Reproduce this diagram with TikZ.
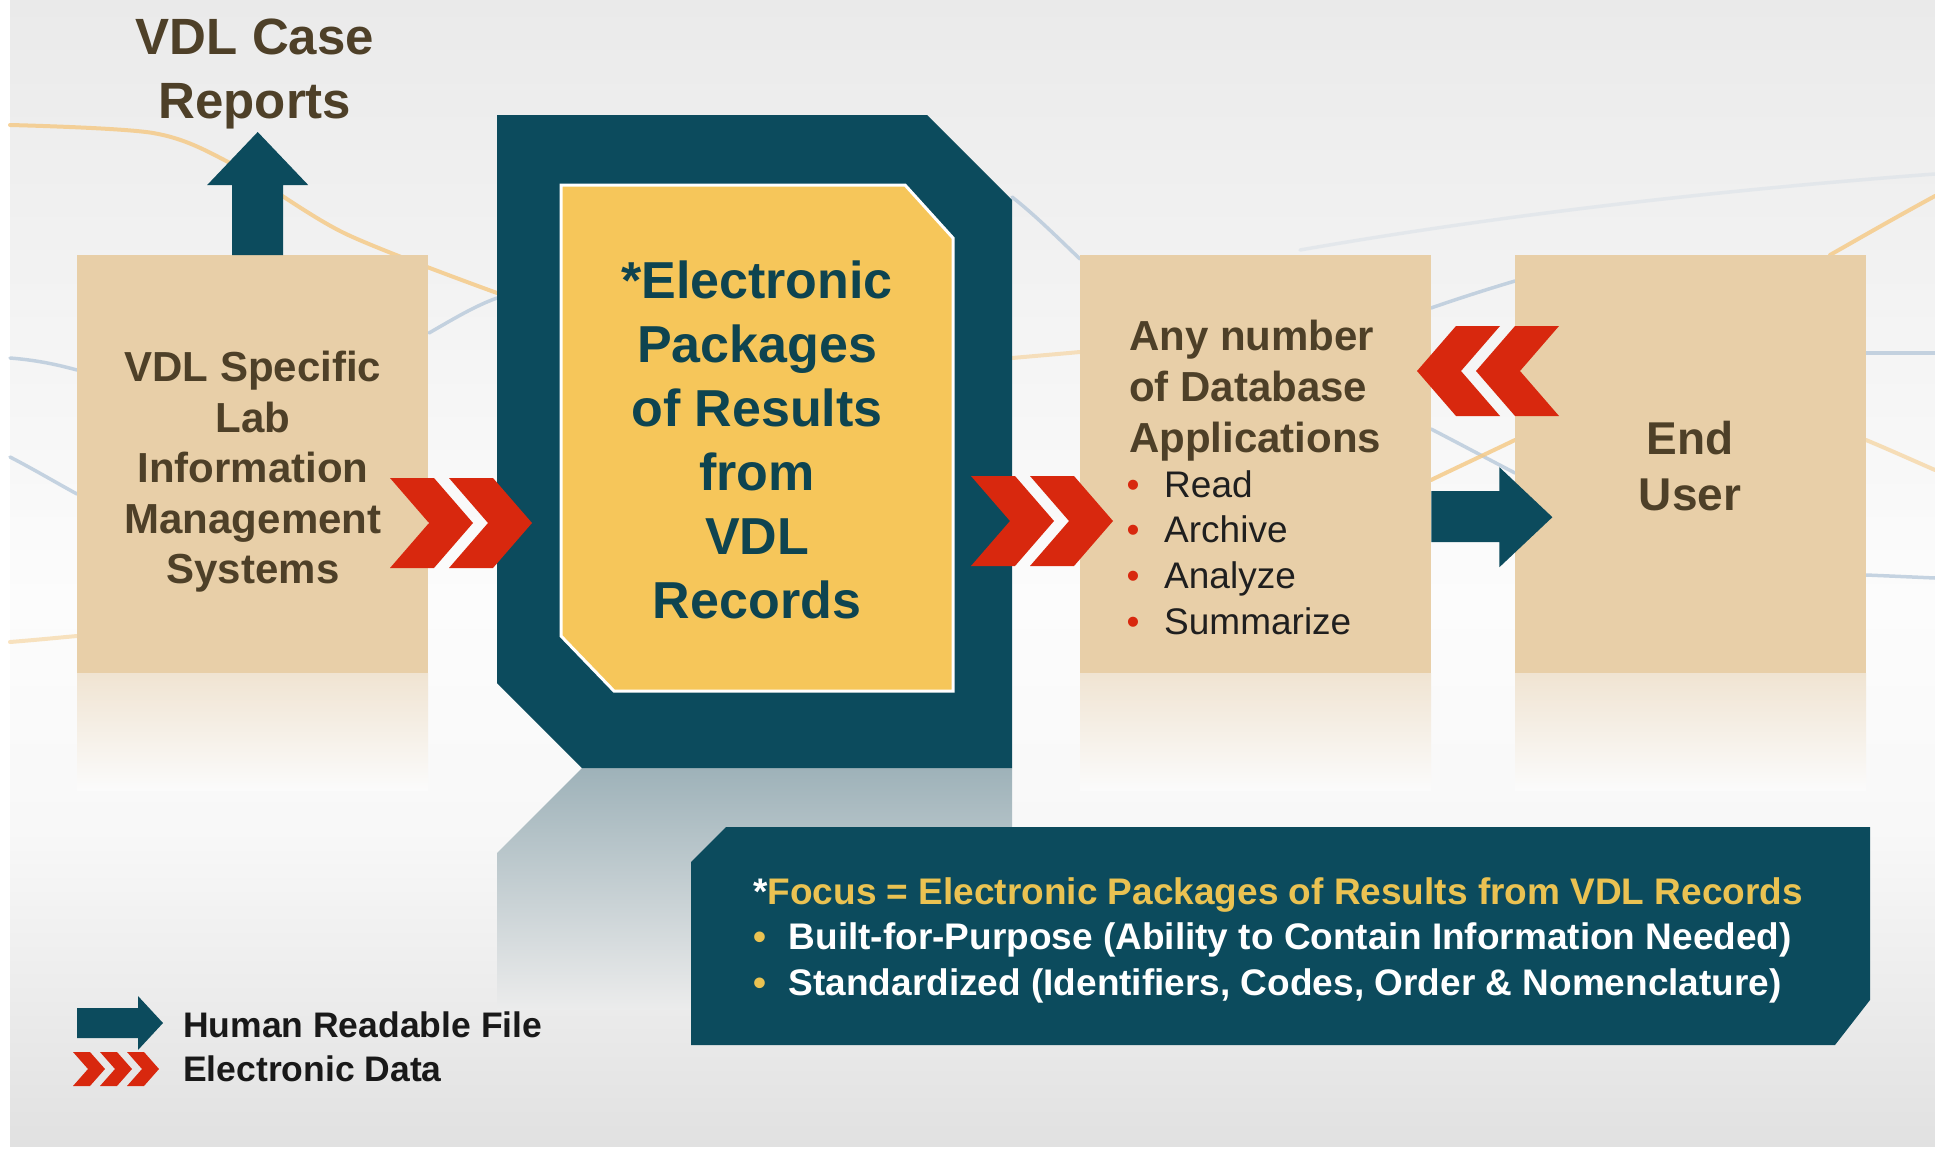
\documentclass[tikz,border=0pt]{standalone}
\usepackage{fontspec}
\setmainfont{Liberation Sans}
\usetikzlibrary{calc}

\definecolor{vdlteal}{RGB}{12,75,93}
\definecolor{vdltan}{RGB}{232,207,168}
\definecolor{vdlyellow}{RGB}{246,198,90}
\definecolor{vdlred}{RGB}{216,40,14}
\definecolor{vdlbrown}{RGB}{78,64,40}
\definecolor{vdlink}{RGB}{14,68,80}
\definecolor{focusgold}{RGB}{234,194,82}
\definecolor{bgtop}{RGB}{234,234,234}
\definecolor{bgmid}{RGB}{252,252,252}
\definecolor{bglow}{RGB}{248,248,248}
\definecolor{bgbot}{RGB}{225,225,225}
\definecolor{swoosho}{RGB}{245,200,130}
\definecolor{swooshb}{RGB}{175,195,215}
\definecolor{reflteal}{RGB}{158,178,185}
\definecolor{reflend}{RGB}{236,236,236}
\definecolor{refltan}{RGB}{240,228,210}
\definecolor{tanend}{RGB}{251,251,251}

\tikzset{
  tanbox/.style={fill=vdltan, draw=none, inner sep=0pt,
    minimum width=351pt, minimum height=418pt, anchor=north west},
  boxtext/.style={text=vdlbrown, inner sep=0pt},
  orangeline/.style={swoosho, line width=4pt, line cap=round, opacity=0.8},
  blueline/.style={swooshb, line width=3.5pt, line cap=round, opacity=0.7},
  chevright/.pic={\fill[vdlred] (0,-45) -- (44,-45) -- (83,0) -- (44,45) -- (0,45) -- (39,0) -- cycle;},
  chevleft/.pic={\fill[vdlred] (83,-45) -- (39,-45) -- (0,0) -- (39,45) -- (83,45) -- (44,0) -- cycle;},
  chevsmall/.pic={\fill[vdlred] (0,-17) -- (17,-17) -- (32,0) -- (17,17) -- (0,17) -- (15,0) -- cycle;},
}

\begin{document}
\begin{tikzpicture}[x=1pt,y=-1pt]
\useasboundingbox (0,0) rectangle (1935,1156);

% backdrop: grey at top and bottom, near white through the middle band
\fill[white] (0,0) rectangle (1935,1156);
\shade[top color=bgtop, bottom color=bgmid] (10,0) rectangle (1935,600);
\shade[top color=bgmid, bottom color=bglow] (10,599.5) rectangle (1935,830);
\shade[top color=bglow, bottom color=bgbot] (10,829.5) rectangle (1935,1146);

% decorative swooshes behind the flow
\draw[orangeline] plot[smooth] coordinates {(10,125) (153,133) (230,163) (344,233) (497,293)};
\draw[blueline] (429,333) .. controls (455,318) and (475,306) .. (497,298);
\draw[blueline] (10,358) .. controls (35,360) and (55,364) .. (77,370);
\draw[blueline] (10,457) .. controls (35,470) and (55,482) .. (77,494);
\draw[orangeline, opacity=0.5] (10,642) .. controls (35,640) and (55,638) .. (77,636);
\draw[blueline] (1012,197) .. controls (1035,215) and (1058,238) .. (1080,259);
\draw[orangeline, opacity=0.5] (1012,358) .. controls (1035,356) and (1058,354) .. (1080,352);
\draw[blueline] (1431,308) .. controls (1460,298) and (1488,289) .. (1515,281);
\draw[blueline] (1431,429) .. controls (1460,444) and (1488,459) .. (1515,473);
\draw[orangeline] (1431,480) .. controls (1460,466) and (1488,453) .. (1515,440);
\draw[blueline, opacity=0.2] (1300,250) .. controls (1500,215) and (1720,190) .. (1935,174);
\draw[orangeline] (1830,255) .. controls (1865,235) and (1900,215) .. (1935,196);
\draw[blueline] (1866,353) -- (1935,353);
\draw[orangeline, opacity=0.55] (1866,440) .. controls (1890,450) and (1912,460) .. (1935,470);
\draw[blueline] (1866,575) .. controls (1890,576) and (1912,577) .. (1935,578);

% soft reflections under the blocks
\shade[top color=refltan, bottom color=tanend] (77,673) rectangle (428,790);
\shade[top color=refltan, bottom color=tanend] (1080,673) rectangle (1431,790);
\shade[top color=refltan, bottom color=tanend] (1515,673) rectangle (1866,790);
\shade[top color=reflteal, bottom color=reflend]
  (582,768) -- (1012,768) -- (1012,1010) -- (497,1010) -- (497,853) -- cycle;

% flow blocks
\node[tanbox] (lims) at (77,255) {};
\node[tanbox] (dba) at (1080,255) {};
\node[tanbox] (enduser) at (1515,255) {};

% electronic package: teal frame with yellow sheet
\fill[vdlteal] (497,115) -- (927,115) -- (1012,200) -- (1012,768)
  -- (582,768) -- (497,683) -- cycle;
\filldraw[fill=vdlyellow, draw=white, line width=3pt]
  (561,185) -- (905,185) -- (953,238) -- (953,691) -- (614,691) -- (561,636) -- cycle;
\coordinate (pkg) at (757,440);

% texts
\node[boxtext, align=center, font=\bfseries\fontsize{51}{64}\selectfont] (reports) at (255,74)
  {VDL Case\\Reports};
\node[boxtext, align=center, font=\bfseries\fontsize{42}{50.5}\selectfont] (limstext) at (253,472)
  {VDL Specific\\Lab\\Information\\Management\\Systems};
\node[inner sep=0pt, text=vdlink, align=center, font=\bfseries\fontsize{52}{64}\selectfont] (pkgtext) at (pkg)
  {*Electronic\\Packages\\of Results\\from\\VDL\\Records};
\node[boxtext, anchor=north west, align=left, font=\bfseries\fontsize{42}{51}\selectfont] (dbatitle) at (1129,320)
  {Any number\\of Database\\Applications};
\node[inner sep=0pt, anchor=north west, align=left, text={black!88}, font=\fontsize{37}{45.7}\selectfont] (dbalist) at (1126.5,470)
  {\makebox[37.5pt][l]{\textcolor{vdlred}{•}}Read\\
   \makebox[37.5pt][l]{\textcolor{vdlred}{•}}Archive\\
   \makebox[37.5pt][l]{\textcolor{vdlred}{•}}Analyze\\
   \makebox[37.5pt][l]{\textcolor{vdlred}{•}}Summarize};
\node[boxtext, align=center, font=\bfseries\fontsize{46}{56}\selectfont] (endtext) at (1690,466)
  {End\\User};

% human-readable report leaving the LIMS
\fill[vdlteal] ($(lims.north)+(-20.5,0)$) -- ++(0,-70) -- ++(-25,0) -- ++(50.5,-53)
  -- ++(50.5,53) -- ++(-25,0) -- ++(0,70) -- cycle;

% electronic data chevrons
\pic at (390,523) {chevright};
\pic at (449,523) {chevright};
\pic at (971,521) {chevright};
\pic at (1030,521) {chevright};
\pic at (1417,371) {chevleft};
\pic at (1476,371) {chevleft};

% human-readable output to the end user
\fill[vdlteal] ($(dba.east)+(0,27)$) -- ++(68,0) -- ++(0,-24) -- ++(53,50)
  -- ++(-53,50) -- ++(0,-25) -- ++(-68,0) -- cycle;

% focus panel
\fill[vdlteal] (726,827) -- (1870,827) -- (1870,1000) -- (1835,1045)
  -- (691,1045) -- (691,862) -- cycle;
\node[inner sep=0pt, anchor=north west, align=left, text=white, font=\bfseries\fontsize{37}{45.5}\selectfont] (focustext) at (753,877)
  {*\textcolor{focusgold}{Focus = Electronic Packages of Results from VDL Records}\\
   \makebox[35.5pt][l]{\textcolor{focusgold}{•}}Built-for-Purpose (Ability to Contain Information Needed)\\
   \makebox[35.5pt][l]{\textcolor{focusgold}{•}}Standardized (Identifiers, Codes, Order \& Nomenclature)};

% legend
\fill[vdlteal] (77,1008) -- (138,1008) -- (138,996) -- (163,1023) -- (138,1050)
  -- (138,1038) -- (77,1038) -- cycle;
\pic at (73,1069) {chevsmall};
\pic at (100,1069) {chevsmall};
\pic at (127,1069) {chevsmall};
\node[inner sep=0pt, anchor=west, text={black!90}, font=\bfseries\fontsize{35.5}{42}\selectfont] (leghuman) at (183,1025)
  {Human Readable File};
\node[inner sep=0pt, anchor=west, text={black!90}, font=\bfseries\fontsize{35.5}{42}\selectfont] (legdata) at (183,1069)
  {Electronic Data};
\end{tikzpicture}
\end{document}
